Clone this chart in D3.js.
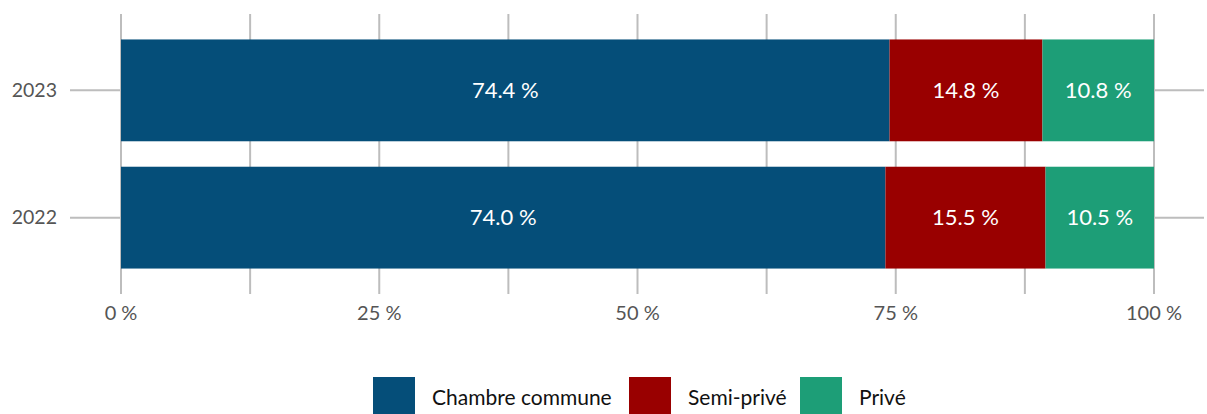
<!DOCTYPE html>
<html>
<head>
<meta charset="utf-8">
<script src="https://cdn.jsdelivr.net/npm/d3@7"></script>
<style>
  html, body { margin: 0; padding: 0; background: #fff; }
  svg { display: block; font-family: Lato, "Open Sans", sans-serif; }
</style>
</head>
<body>
<svg id="chart" width="1207" height="414"></svg>
<script>
const categories = ["2023", "2022"];
const seriesNames = ["Chambre commune", "Semi-privé", "Privé"];
const chambreCommune = [74.4, 74.0];
const semiPrive = [14.8, 15.5];
const prive = [10.8, 10.5];
const tickValues = [0, 25, 50, 75, 100];
const gridValues = [0, 12.5, 25, 37.5, 50, 62.5, 75, 87.5, 100];
const colors = ["#054e79", "#990000", "#1d9e77"];

const seriesValues = [chambreCommune, semiPrive, prive];
const rows = categories.map((c, i) => {
  const r = { year: c };
  seriesNames.forEach((s, j) => r[s] = seriesValues[j][i]);
  return r;
});
const stacked = d3.stack().keys(seriesNames)(rows);

const svg = d3.select("#chart");
const x = d3.scaleLinear().domain([0, 100]).range([121, 1154]);
const y = d3.scaleBand().domain(categories).range([14, 294]).paddingInner(0.2).paddingOuter(0.2);

// gridlines
svg.append("g").selectAll("line").data(gridValues).join("line")
  .attr("x1", d => x(d)).attr("x2", d => x(d))
  .attr("y1", 14).attr("y2", 294)
  .attr("stroke", "#bdbdbd").attr("stroke-width", 2);

// y ticks (left and right)
const yTicks = svg.append("g");
yTicks.selectAll("line.l").data(categories).join("line").attr("class", "l")
  .attr("x1", 70).attr("x2", x(0))
  .attr("y1", d => y(d) + y.bandwidth() / 2).attr("y2", d => y(d) + y.bandwidth() / 2)
  .attr("stroke", "#bdbdbd").attr("stroke-width", 2);
yTicks.selectAll("line.r").data(categories).join("line").attr("class", "r")
  .attr("x1", x(100)).attr("x2", 1204)
  .attr("y1", d => y(d) + y.bandwidth() / 2).attr("y2", d => y(d) + y.bandwidth() / 2)
  .attr("stroke", "#bdbdbd").attr("stroke-width", 2);
yTicks.selectAll("text").data(categories).join("text")
  .attr("x", 57).attr("y", d => y(d) + y.bandwidth() / 2)
  .attr("dy", "0.35em").attr("text-anchor", "end")
  .attr("fill", "#555").attr("font-size", 19.5).text(d => d);

// bars
const layers = svg.append("g").selectAll("g").data(stacked).join("g")
  .attr("fill", (d, i) => colors[i]);
layers.selectAll("rect").data(d => d).join("rect")
  .attr("x", d => x(d[0])).attr("width", d => x(d[1]) - x(d[0]))
  .attr("y", d => y(d.data.year)).attr("height", y.bandwidth());

// value labels
const fmt = v => v.toFixed(1) + " %";
svg.append("g").selectAll("g").data(stacked).join("g")
  .selectAll("text").data(d => d.map(p => ({ p, key: d.key }))).join("text")
  .attr("x", d => (x(d.p[0]) + x(d.p[1])) / 2)
  .attr("y", d => y(d.p.data.year) + y.bandwidth() / 2)
  .attr("dy", "0.35em").attr("text-anchor", "middle")
  .attr("fill", "#fff").attr("font-size", 22)
  .text(d => fmt(d.p.data[d.key]));

// x axis labels
svg.append("g").selectAll("text").data(tickValues).join("text")
  .attr("x", d => x(d)).attr("y", 313).attr("dy", "0.35em")
  .attr("text-anchor", "middle").attr("fill", "#555").attr("font-size", 20)
  .text(d => d + " %");

// legend
const legendX = [373, 629, 800];
const leg = svg.append("g").selectAll("g").data(seriesNames).join("g")
  .attr("transform", (d, i) => `translate(${legendX[i]},377)`);
leg.append("rect").attr("width", 42).attr("height", 42).attr("fill", (d, i) => colors[i]);
leg.append("text").attr("x", 59).attr("y", 21).attr("dy", "0.35em")
  .attr("fill", "#111").attr("font-size", 21).text(d => d);
</script>
</body>
</html>
